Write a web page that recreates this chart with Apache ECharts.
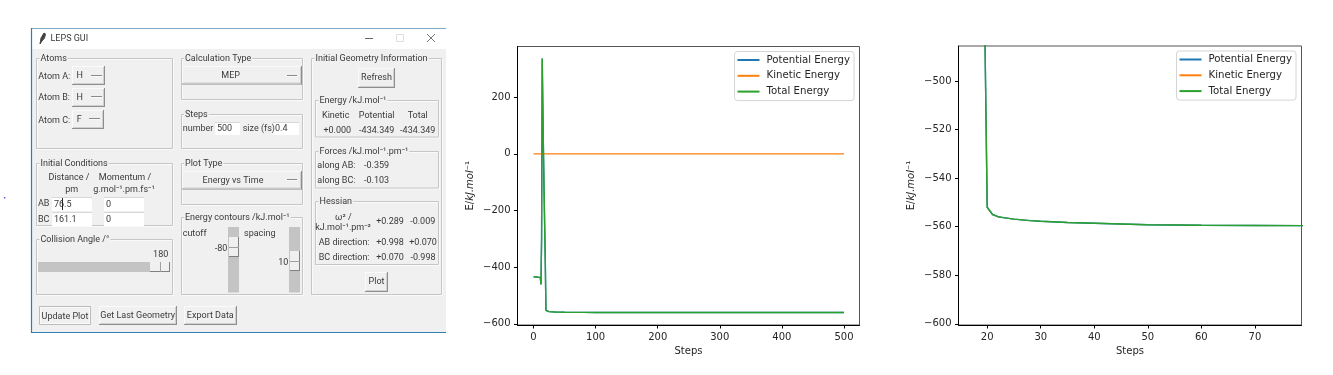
<!DOCTYPE html>
<html>
<head>
<meta charset="utf-8">
<script src="https://cdn.jsdelivr.net/npm/echarts@6/dist/echarts.min.js"></script>
<style>html,body{margin:0;padding:0;background:#fff}#c{width:1333px;height:375px;filter:blur(0.4px)}</style>
</head>
<body>
<div id="c"></div>
<script>
// ---- chart data ----
var steps          = [0, 5, 8, 11, 12, 13, 14, 15, 16, 17, 18, 19, 20, 21, 22, 23, 25, 28, 30, 35, 40, 50, 60, 70, 80, 100, 200, 300, 400, 500];
var potentialEnergy= [-434.3, -434.5, -435, -437, -461, -300, 337, 170, 10, -130, -260, -386, -552, -555, -555.9, -556.3, -556.9, -557.5, -557.8, -558.3, -558.6, -559.2, -559.4, -559.5, -559.6, -559.7, -559.9, -560, -560, -560];
var kineticEnergy  = [0, 0, 0, 0, 0, 0, 0, 0, 0, 0, 0, 0, 0, 0, 0, 0, 0, 0, 0, 0, 0, 0, 0, 0, 0, 0, 0, 0, 0, 0];
var totalEnergy    = [-434.3, -434.5, -435, -437, -461, -300, 337, 170, 10, -130, -260, -386, -552, -555, -555.9, -556.3, -556.9, -557.5, -557.8, -558.3, -558.6, -559.2, -559.4, -559.5, -559.6, -559.7, -559.9, -560, -560, -560];
var seriesNames    = ['Potential Energy', 'Kinetic Energy', 'Total Energy'];
var seriesColors   = ['#1f77b4', '#ff7f0e', '#2ca02c'];
var xTicksFull     = [0, 100, 200, 300, 400, 500];
var yTicksFull     = [-600, -400, -200, 0, 200];
var xTicksZoom     = [20, 30, 40, 50, 60, 70];
var yTicksZoom     = [-600, -580, -560, -540, -520, -500];

// ---- GUI panel helpers ----
var FONT = 'Roboto', TXT = '#3a3a3a';
var g = [];
function zip(a){ return steps.map(function(s,i){ return [s,a[i]]; }); }
function rect(x,y,w,h,fill,stroke,z){ g.push({type:'rect',silent:true,z:z||1,shape:{x:x,y:y,width:w,height:h},style:{fill:fill||'none',stroke:stroke||'none',lineWidth:1}}); }
function line(x1,y1,x2,y2,c,w,z){ g.push({type:'line',silent:true,z:z||3,shape:{x1:x1,y1:y1,x2:x2,y2:y2},style:{stroke:c,lineWidth:w||1}}); }
function text(s,x,y,align,opt){ opt=opt||{}; var st={x:x,y:y+0.7,text:s,fill:opt.fill||TXT,align:align||'left',verticalAlign:'middle',font:(opt.size||9)+'px '+FONT}; if(opt.bg){st.backgroundColor=opt.bg;st.padding=[0,1];} g.push({type:'text',silent:true,z:opt.z||5,style:st}); }
function frame(label,x1,y1,x2,y2,lx){
  rect(x1+1.5,y1+1.5,x2-x1-1,y2-y1-1,null,'#fafafa',2);
  rect(x1+.5,y1+.5,x2-x1-1,y2-y1-1,null,'#c6c6c6',2);
  text(label,lx,y1,'left',{bg:'#f0f0f0',z:4});
}
function button(x1,y1,x2,y2,label,cx,cy,flat){
  rect(x1,y1,x2-x1,y2-y1,'#f0f0f0',null,3);
  if(flat){ rect(x1+.5,y1+.5,x2-x1-1,y2-y1-1,null,'#bcbcbc',3); rect(x1+1.5,y1+1.5,x2-x1-3,y2-y1-3,null,'#fafafa',3); }
  else {
    line(x1,y1+.5,x2,y1+.5,'#fafafa',1,3); line(x1+.5,y1,x1+.5,y2,'#fafafa',1,3);
    line(x1,y2-.5,x2,y2-.5,'#8e8e8e',1,3); line(x2-.5,y1,x2-.5,y2,'#8e8e8e',1,3);
    line(x1+1,y2-1.5,x2-1,y2-1.5,'#d0d0d0',1,3); line(x2-1.5,y1+1,x2-1.5,y2-1,'#d0d0d0',1,3);
  }
  text(label,cx,cy,'center');
}
function dash(x1,x2,y){ line(x1,y-.5,x2,y-.5,'#8a8a8a',1,4); line(x1,y+.5,x2,y+.5,'#fafafa',1,4); }
function entry(x1,y1,x2,y2,s){ rect(x1,y1,x2-x1,y2-y1,'#ffffff',null,3); line(x1,y1+.5,x2,y1+.5,'#d8d8d8',1,3); text(s,x1+2,(y1+y2)/2); }
function thumb(x1,y1,x2,y2,vertical){
  rect(x1,y1,x2-x1,y2-y1,'#f0f0f0',null,4);
  line(x1,y2-.5,x2,y2-.5,'#808080',1,4); line(x2-.5,y1,x2-.5,y2,'#808080',1,4);
  if(vertical){ var m=Math.round((y1+y2)/2)+.5; line(x1,m,x2,m,'#a0a0a0',1,4);} else { var n=Math.round((x1+x2)/2)+.5; line(n,y1,n,y2,'#a0a0a0',1,4);}
}

// window
rect(31,28,415,305,'#f0f0f0',null,0);
rect(31,29,415,20,'#ffffff',null,1);
line(31,28.5,446,28.5,'#7fa8c4',1,2);
line(31.5,28,31.5,333,'#2f7fb2',1.2,2);
line(31,332.5,446,332.5,'#2f7fb2',1.2,2);
g.push({type:'polyline',silent:true,z:3,shape:{points:[[40,44],[41,38],[44,33],[45.5,34],[44.5,38],[42,41],[40,44]]},style:{fill:'#444',stroke:'#444',lineWidth:1}});
text('LEPS GUI',50.5,38,'left',{size:9});
line(365,38.5,373,38.5,'#666',1,3);
rect(396.5,34.5,7,7,null,'#dedede',3);
line(427,34,435,42,'#777',1,3); line(435,34,427,42,'#777',1,3);

// left column
frame('Atoms',36,58,173,149,39.5);
text('Atom A:',38.3,75.7); text('Atom B:',38.3,97.3); text('Atom C:',38.3,119.7);
button(72,66,105,85,'H',79.7,75.5); dash(91,102,76);
button(72,88,105,107,'H',79.7,97.5); dash(91,102,97);
button(72,110,104,129,'F',79.2,119.5); dash(89,100,119);

frame('Initial Conditions',36,163,173,226,39.5);
text('Distance /',69,177.3,'center'); text('pm',71.7,189.3,'center');
text('Momentum /',125,177.3,'center'); text('g.mol⁻¹.pm.fs⁻¹',124,189.3,'center');
text('AB',38,203.5); text('BC',38,219);
entry(52,197,92,211,'76.5'); line(62.5,198,62.5,210,'#222',1,6);
entry(52,212,92,226,'161.1');
entry(104,197,144,211,'0'); entry(104,212,144,226,'0');

frame('Collision Angle /°',36,239,173,295,39.5);
text('180',160.7,254.3,'center');
rect(38,262,132,10,'#c4c4c4',null,3);
thumb(150,262,170,272,false);

// middle column
frame('Calculation Type',181,58,303,100,184);
button(182,66,302,84.5,'MEP',230.7,75.5); dash(287,297,76);
frame('Steps',181,114,303,149,184);
text('number',182.7,128.3); entry(215,122,240,135,'500');
text('size (fs)',242.7,128.3); entry(273,122,299,135,'0.4');
frame('Plot Type',181,163,303,205,184);
button(182,171,302,189.5,'Energy vs Time',233,180); dash(287,297,180);
frame('Energy contours /kJ.mol⁻¹',181,217,303,295,184);
text('cutoff',182.7,232.7); text('spacing',244,232.7);
rect(228,227,11,65.5,'#c4c4c4',null,3); thumb(229,237,239,257,true);
text('-80',227.3,248.3,'right');
rect(289,227,11,65.5,'#c4c4c4',null,3); thumb(290,251,300,271,true);
text('10',288.3,262.3,'right');

// right column
frame('Initial Geometry Information',311,58,442,295,314.5);
button(358,68,395,88,'Refresh',376.5,77.5);
frame('Energy /kJ.mol⁻¹',315,100,439,137.5,318.5);
text('Kinetic',335.7,115,'center'); text('Potential',376.7,115,'center'); text('Total',417.7,115,'center');
text('+0.000',337.3,130,'center'); text('-434.349',376.7,130,'center'); text('-434.349',417.7,130,'center');
frame('Forces /kJ.mol⁻¹.pm⁻¹',315,151,439,188.5,318.5);
text('along AB:',317.3,165.3); text('-0.359',364,165.3);
text('along BC:',317.3,180.3); text('-0.103',364,180.3);
frame('Hessian',315,201,439,265,318.5);
text('ω² /',343.3,216.7,'center'); text('kJ.mol⁻¹.pm⁻²',343,226.7,'center');
text('+0.289',390,220.7,'center'); text('-0.009',422.7,220.7,'center');
text('AB direction:',318.7,242); text('+0.998',390,242,'center'); text('+0.070',423,242,'center');
text('BC direction:',318.7,257); text('+0.070',390,257,'center'); text('-0.998',423,257,'center');
button(365,272,388,292,'Plot',376.5,281.5);

// bottom buttons
button(39,306,91,325,'Update Plot',65,316,true);
button(99,306,177,325,'Get Last Geometry',137.7,315.5);
button(184,306,237,325,'Export Data',210.3,315.5);

// stray dot on the page
rect(4,197,1.4,1.4,'#5a5ad8',null,1);

// ---- chart options ----
var MPL='"DejaVu Sans"';
function minus(v){ return String(v).replace('-','\u2212'); }
function xAxis(i,min,max,ticks){ return {type:'value',gridIndex:i,min:min,max:max,name:'Steps',nameLocation:'middle',nameGap:20,
  nameTextStyle:{fontFamily:MPL,fontSize:10,color:'#262626'},splitLine:{show:false},
  axisLine:{show:true,onZero:false,lineStyle:{color:'#000',width:1}},
  axisTick:{show:true,length:3.5,customValues:ticks,lineStyle:{color:'#000',width:1}},
  axisLabel:{customValues:ticks,formatter:minus,margin:7,fontFamily:MPL,fontSize:10,color:'#262626'}}; }
function yAxis(i,min,max,ticks,gap){ return {type:'value',gridIndex:i,min:min,max:max,name:'{a|E/}{b|kJ.mol}{c|⁻¹}',nameLocation:'middle',nameRotate:90,nameGap:gap,
  nameTextStyle:{rich:{a:{fontFamily:MPL,fontSize:10,color:'#262626'},b:{fontFamily:MPL,fontSize:10,fontStyle:'italic',color:'#262626'},c:{fontFamily:MPL,fontSize:10,color:'#262626'}}},
  splitLine:{show:false},axisLine:{show:true,onZero:false,lineStyle:{color:'#000',width:1}},
  axisTick:{show:true,length:3.5,customValues:ticks,lineStyle:{color:'#000',width:1}},
  axisLabel:{customValues:ticks,formatter:minus,margin:7,fontFamily:MPL,fontSize:10,color:'#262626'}}; }
function legend(left,top){ return {show:true,orient:'vertical',left:left,top:top,data:seriesNames,icon:'rect',itemWidth:22,itemHeight:2,itemGap:5.8,padding:[3.5,4,4,3],
  backgroundColor:'rgba(255,255,255,0.8)',borderColor:'#d5d5d5',borderWidth:1,borderRadius:3,selectedMode:false,
  textStyle:{fontFamily:MPL,fontSize:10.2,color:'#262626',padding:[0,0,0,2]}}; }
var series=[];
[0,1].forEach(function(i){
  [potentialEnergy,kineticEnergy,totalEnergy].forEach(function(arr,k){
    series.push({type:'line',name:seriesNames[k],xAxisIndex:i,yAxisIndex:i,data:zip(arr),showSymbol:false,
      lineStyle:{color:seriesColors[k],width:1.4},itemStyle:{color:seriesColors[k]},clip:true,z:2+k,animation:false});
  });
});
var chart=echarts.init(document.getElementById('c'),null,{renderer:'canvas'});
chart.setOption({
  animation:false,backgroundColor:'#fff',
  grid:[
    {left:517.5,top:46.5,width:342,height:278.5,show:true,borderColor:'#555',borderWidth:1,backgroundColor:'#fff'},
    {left:958.5,top:46,width:343,height:279,show:true,borderColor:'#555',borderWidth:1,backgroundColor:'#fff'}
  ],
  xAxis:[xAxis(0,-25.8,525,xTicksFull),xAxis(1,14.64,78.7,xTicksZoom)],
  yAxis:[yAxis(0,-604,379,yTicksFull,42),yAxis(1,-600.5,-485.6,yTicksZoom,42)],
  legend:[legend(734.5,51.5),legend(1176.5,51)],
  series:series,
  graphic:{elements:g}
});
</script>
</body>
</html>
